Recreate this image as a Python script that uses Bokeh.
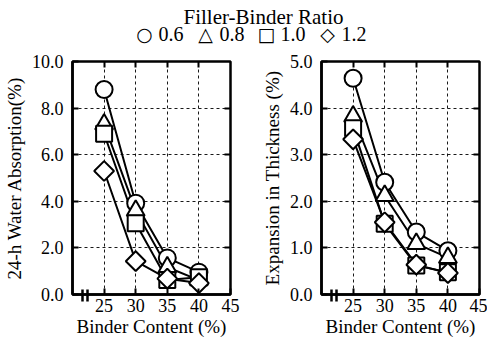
from math import pi
from bokeh.plotting import figure
from bokeh.layouts import column, row
from bokeh.models import (Range1d, LinearAxis, FixedTicker, NumeralTickFormatter)
from bokeh.core.properties import value
from bokeh.embed import file_html
from bokeh.resources import INLINE

FONT = "Liberation Serif"

# ---- data ----
binder = [25, 30, 35, 40]
ratios = ["0.6", "0.8", "1.0", "1.2"]
markers = ["circle", "triangle", "square", "diamond"]
symbols = ["\u25cb", "\u25b3", "\u25a1", "\u25c7"]

water_06 = [8.8, 3.92, 1.57, 0.96]
water_08 = [7.3, 3.6, 1.17, 0.62]
water_10 = [6.9, 3.06, 0.62, 0.74]
water_12 = [5.3, 1.43, 0.68, 0.49]

thick_06 = [4.64, 2.41, 1.34, 0.94]
thick_08 = [3.82, 2.12, 1.09, 0.79]
thick_10 = [3.57, 1.52, 0.62, 0.48]
thick_12 = [3.33, 1.55, 0.64, 0.46]

x_ticks = [25, 30, 35, 40, 45]
axis_break = [21.6, 22.3]
left_yticks = [0, 2, 4, 6, 8, 10]
right_yticks = [0, 1, 2, 3, 4, 5]

title_text = "Filler-Binder Ratio"
# glyph used for each marker: (bokeh marker, size, rotation)
marker_style = {"circle": ("circle", 17, 0),
                "triangle": ("triangle", 18, 0),
                "square": ("square", 16, 0),
                "diamond": ("square", 14, pi / 4)}


def panel(series, ymax, yticks, ylabel, width, border_left, border_right):
    p = figure(width=width, height=292, output_backend="svg", toolbar_location=None,
               x_range=Range1d(20, 45), y_range=Range1d(0, ymax),
               min_border_left=border_left, min_border_right=border_right,
               min_border_top=11, min_border_bottom=48)
    p.background_fill_color = "white"
    p.border_fill_color = "white"
    p.outline_line_color = "black"
    p.outline_line_width = 2.5

    for ax in (p.xaxis[0], p.yaxis[0]):
        ax.axis_line_width = 2.5
        ax.axis_line_color = "black"
        ax.major_tick_in = 6
        ax.major_tick_out = 0
        ax.major_tick_line_width = 2
        ax.minor_tick_line_color = None
        ax.major_label_text_font = FONT
        ax.major_label_text_font_size = "18px"
        ax.major_label_text_color = "black"
        ax.axis_label_text_font = FONT
        ax.axis_label_text_font_size = "19px"
        ax.axis_label_text_font_style = "normal"
        ax.axis_label_text_color = "black"

    p.xaxis.ticker = FixedTicker(ticks=x_ticks, minor_ticks=axis_break)
    # axis-break bars drawn as minor ticks across the axis line
    p.xaxis.minor_tick_line_color = "black"
    p.xaxis.minor_tick_line_width = 2.5
    p.xaxis.minor_tick_in = 5
    p.xaxis.minor_tick_out = 7
    p.yaxis.ticker = FixedTicker(ticks=yticks)
    p.yaxis.formatter = NumeralTickFormatter(format="0.0")
    p.xaxis.axis_label = "Binder Content (%)"
    p.yaxis.axis_label = ylabel
    p.xaxis.major_label_standoff = -3
    p.xaxis.axis_label_standoff = 1
    p.yaxis.major_label_standoff = 9
    p.yaxis.axis_label_standoff = 4

    # inward ticks on top and right
    top = LinearAxis(ticker=FixedTicker(ticks=x_ticks[:-1]))
    right = LinearAxis(ticker=FixedTicker(ticks=yticks[1:-1]))
    for ax in (top, right):
        ax.axis_line_color = None
        ax.major_tick_in = 6
        ax.major_tick_out = 0
        ax.major_tick_line_width = 2
        ax.minor_tick_line_color = None
        ax.major_label_text_color = None
        ax.major_label_text_font_size = "1px"
        ax.major_label_standoff = 0
    p.add_layout(top, "above")
    p.add_layout(right, "right")

    p.xgrid.ticker = FixedTicker(ticks=x_ticks[:-1])
    p.ygrid.ticker = FixedTicker(ticks=yticks[1:-1])
    for g in (p.xgrid[0], p.ygrid[0]):
        g.grid_line_color = "black"
        g.grid_line_dash = "3 3"
        g.grid_line_width = 1
        g.grid_line_alpha = 0.9

    for ys in series:
        p.line(binder, ys, line_color="black", line_width=2)
    for ys, m in zip(series, markers):
        mk, sz, ang = marker_style[m]
        p.scatter(binder, ys, marker=mk, size=sz, angle=ang, fill_color="white",
                  line_color="black", line_width=2)
    return p


left = panel([water_06, water_08, water_10, water_12], 10, left_yticks,
             "24-h Water Absorption(%)", 243, 72, 13)
right_p = panel([thick_06, thick_08, thick_10, thick_12], 5, right_yticks,
                "Expansion in Thickness (%)", 244, 78, 8)

header = figure(width=487, height=50, output_backend="svg", toolbar_location=None,
                x_range=Range1d(0, 487), y_range=Range1d(0, 50),
                min_border=0)
header.axis.visible = False
header.grid.visible = False
header.outline_line_color = None
header.text(x=[263], y=[34], text=[title_text], text_font=value(FONT),
            text_font_size="21px", text_align="center", text_baseline="middle",
            text_color="black")

leg_x0, leg_step = 144, 61
sym_x = [leg_x0 + i * leg_step for i in range(len(ratios))]
num_x = [x + 14 for x in sym_x]
header.text(x=sym_x, y=[17] * 4, text=symbols, text_font=value("DejaVu Sans"),
            text_font_size="19px", text_align="center", text_baseline="middle",
            text_color="black")
header.text(x=num_x, y=[17] * 4, text=ratios, text_font=value(FONT),
            text_font_size="20px", text_align="left", text_baseline="middle",
            text_color="black")

layout = column(header, row(left, right_p))
open("out.html", "w").write(file_html(layout, INLINE))
